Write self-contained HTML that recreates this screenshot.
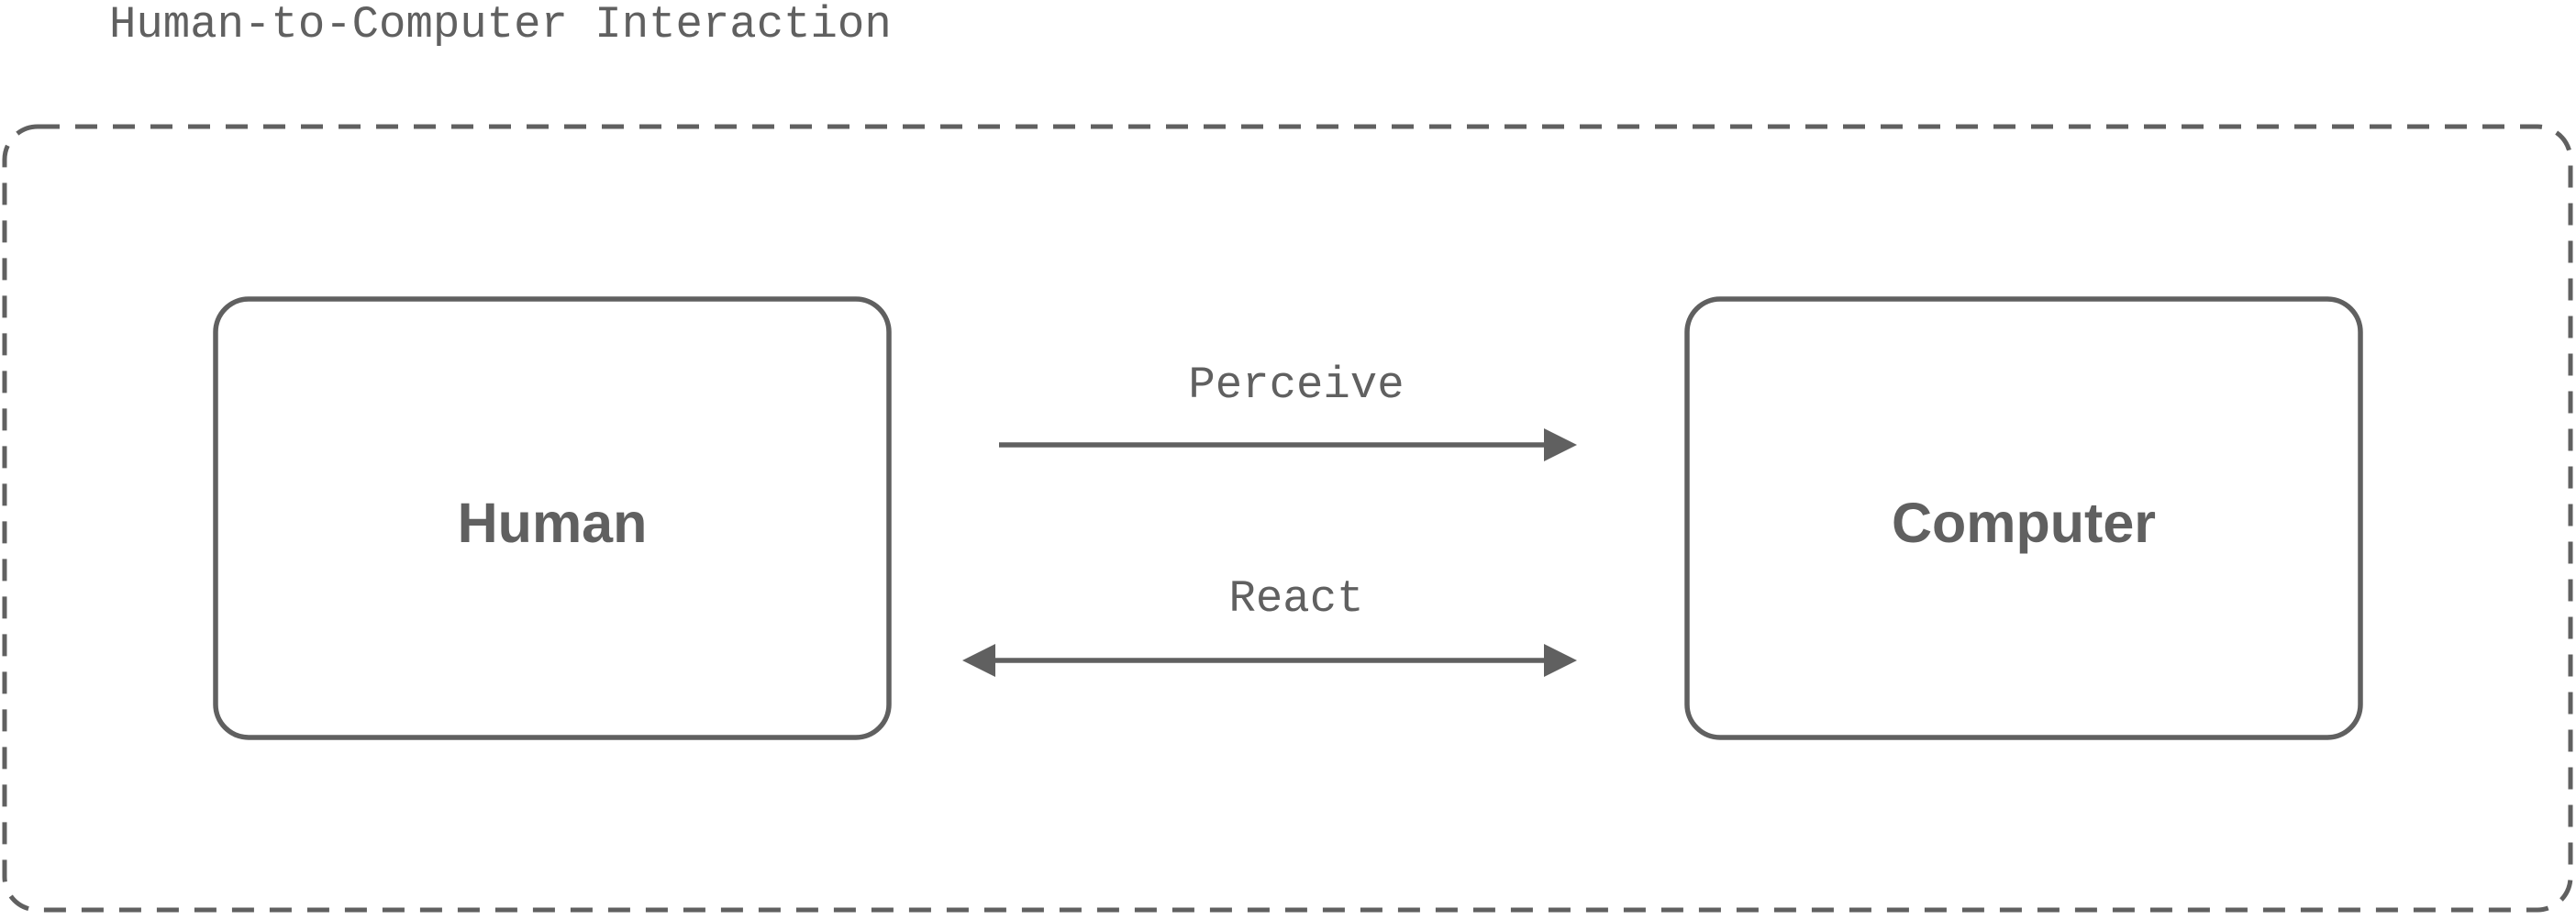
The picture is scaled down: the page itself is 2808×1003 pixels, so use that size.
<!DOCTYPE html>
<html><head><meta charset="utf-8"><style>
html,body{margin:0;padding:0;background:#fff;width:2808px;height:1003px;overflow:hidden}
</style></head><body>
<svg width="2808" height="1003" xmlns="http://www.w3.org/2000/svg">
<rect width="2808" height="1003" fill="#fff"/>
<text x="119" y="40" font-family="Liberation Mono, monospace" font-size="49" fill="#606060">Human-to-Computer Interaction</text>
<rect x="5" y="138" width="2797" height="854" rx="36" fill="none" stroke="#606060" stroke-width="5" stroke-dasharray="24 17"/>
<rect x="235" y="326" width="734" height="478" rx="36" fill="none" stroke="#606060" stroke-width="5.5"/>
<rect x="1839" y="326" width="734" height="478" rx="36" fill="none" stroke="#606060" stroke-width="5.5"/>
<text x="602" y="591" text-anchor="middle" font-family="Liberation Sans, sans-serif" font-weight="bold" font-size="61" fill="#606060">Human</text>
<text x="2206" y="591" text-anchor="middle" font-family="Liberation Sans, sans-serif" font-weight="bold" font-size="61" fill="#606060">Computer</text>
<text x="1413" y="433" text-anchor="middle" font-family="Liberation Mono, monospace" font-size="49" fill="#606060">Perceive</text>
<text x="1413" y="666" text-anchor="middle" font-family="Liberation Mono, monospace" font-size="49" fill="#606060">React</text>
<line x1="1089" y1="485" x2="1690" y2="485" stroke="#606060" stroke-width="5.5"/>
<polygon points="1683,467 1719,485 1683,503" fill="#606060"/>
<line x1="1080" y1="720" x2="1690" y2="720" stroke="#606060" stroke-width="5.5"/>
<polygon points="1683,702 1719,720 1683,738" fill="#606060"/>
<polygon points="1085,702 1049,720 1085,738" fill="#606060"/>
</svg>
</body></html>
